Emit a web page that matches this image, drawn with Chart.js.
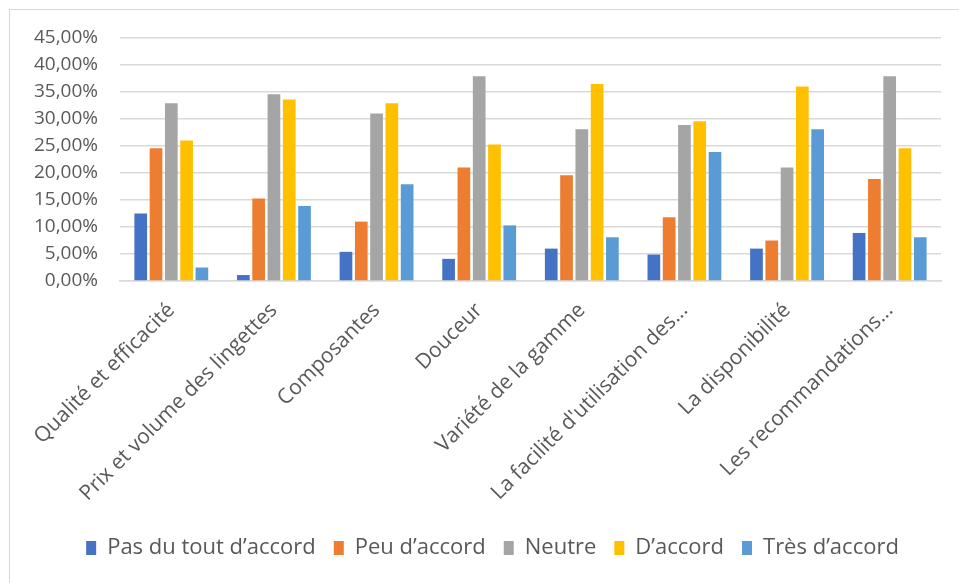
<!DOCTYPE html>
<html>
<head>
<meta charset="utf-8">
<script src="https://cdn.jsdelivr.net/npm/chart.js@4.4.0/dist/chart.umd.min.js"></script>
<style>
  html, body { margin: 0; padding: 0; background: #ffffff; }
  #wrap { position: absolute; left: 0; top: 0; width: 959px; height: 583px; overflow: hidden; }
  #frame { position: absolute; left: 9px; top: 9px; width: 960px; height: 600px; border-left: 1px solid #d9d9d9; border-top: 1px solid #d9d9d9; box-sizing: border-box; }
  canvas { position: absolute; left: 0; top: 0; }
</style>
</head>
<body>
<div id="wrap">
  <div id="frame"></div>
  <canvas id="c" width="959" height="583"></canvas>
</div>
<script>
const categories = [
  "Qualité et efficacité",
  "Prix et volume des lingettes",
  "Composantes",
  "Douceur",
  "Variété de la gamme",
  "La facilité d'utilisation des...",
  "La disponibilité",
  "Les recommandations..."
];
const seriesNames = ["Pas du tout d’accord", "Peu d’accord", "Neutre", "D’accord", "Très d’accord"];
const pasDuTout = [12.5, 1.1, 5.4, 4.1, 6.0, 4.9, 6.0, 8.9];
const peu       = [24.6, 15.3, 11.0, 21.0, 19.6, 11.8, 7.5, 18.9];
const neutre    = [32.9, 34.6, 31.0, 37.9, 28.1, 28.9, 21.0, 37.9];
const daccord   = [26.0, 33.6, 32.9, 25.3, 36.5, 29.6, 36.0, 24.6];
const tres      = [2.5, 13.9, 17.9, 10.3, 8.1, 23.9, 28.1, 8.1];
const colors = ["#4472C4", "#ED7D31", "#A5A5A5", "#FFC000", "#5B9BD5"];
const yMin = 0, yMax = 45, yStep = 5;

const FONT = "'Open Sans', Lato, sans-serif";
const seriesData = [pasDuTout, peu, neutre, daccord, tres];

// shift the legend box to the right (it is centred on the plot area in the original)
const legendShift = {
  id: 'legendShift',
  afterLayout(chart) {
    const lg = chart.legend;
    if (lg) { lg.left += 44; lg.right += 0; }
  }
};

new Chart(document.getElementById('c'), {
  type: 'bar',
  data: {
    labels: categories,
    datasets: seriesData.map((d, i) => ({
      label: seriesNames[i],
      data: d,
      backgroundColor: colors[i],
      borderWidth: 0,
      categoryPercentage: 0.745,
      barPercentage: 0.83
    }))
  },
  plugins: [legendShift],
  options: {
    responsive: false,
    animation: false,
    devicePixelRatio: 1,
    layout: { padding: { top: 38, right: 18, bottom: 14, left: 0 } },
    plugins: {
      tooltip: { enabled: false },
      legend: {
        position: 'bottom',
        labels: {
          font: { family: FONT, size: 22 },
          color: '#595959',
          boxWidth: 10,
          boxHeight: 14,
          padding: 18
        }
      }
    },
    scales: {
      x: {
        grid: { display: false, drawTicks: false },
        border: { display: true, color: '#d9d9d9', width: 1.5 },
        ticks: {
          font: { family: FONT, size: 21 },
          color: '#595959',
          minRotation: 45,
          maxRotation: 45,
          autoSkip: false,
          padding: 17
        },
        afterFit: (s) => { s.height = 238; }
      },
      y: {
        min: yMin,
        max: yMax,
        ticks: {
          stepSize: yStep,
          autoSkip: false,
          font: { family: FONT, size: 19 },
          color: '#595959',
          padding: 22,
          callback: (v) => v.toFixed(2).replace('.', ',') + '%'
        },
        grid: { color: '#d9d9d9', lineWidth: 1.5, drawTicks: false },
        border: { display: false },
        afterFit: (s) => { s.width = 120; }
      }
    }
  }
});
</script>
</body>
</html>
